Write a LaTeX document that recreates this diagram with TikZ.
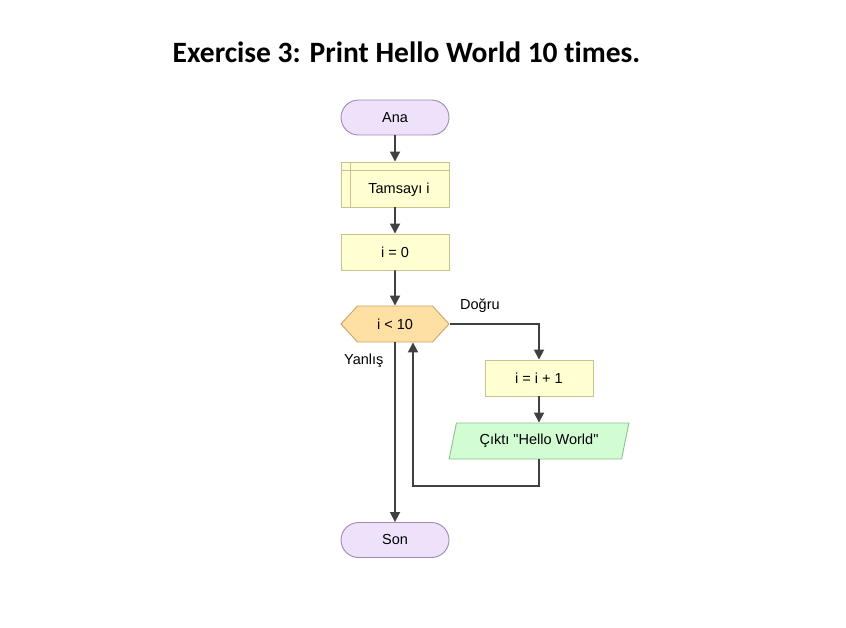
\documentclass[tikz,border=0pt]{standalone}
\usepackage{fontspec}
\setmainfont{Liberation Sans}
\newfontfamily\titlefont[Ligatures={NoCommon}]{Carlito}
\usetikzlibrary{shapes.geometric,shapes.symbols,arrows.meta}

\definecolor{termfill}{HTML}{EEE2FB}
\definecolor{termline}{HTML}{A088B4}
\definecolor{procfill}{HTML}{FFFFD2}
\definecolor{procline}{HTML}{C4C48C}
\definecolor{condfill}{HTML}{FFE0A4}
\definecolor{condline}{HTML}{C9A366}
\definecolor{outfill}{HTML}{D2FCD2}
\definecolor{outline}{HTML}{8EBF8E}
\definecolor{flowline}{HTML}{404040}

\tikzset{
  box/.style={minimum width=108pt,minimum height=36pt,inner sep=0pt,line width=0.9pt,
    font=\fontsize{14.5}{17}\selectfont},
  term/.style={box,rectangle,rounded corners=17.5pt,fill=termfill,draw=termline,minimum height=35pt},
  proc/.style={box,rectangle,fill=procfill,draw=procline},
  decl/.style={proc,minimum height=45pt,
    path picture={\draw[procline,line width=0.9pt]
      ([xshift=9pt]path picture bounding box.north west) -- ([xshift=9pt]path picture bounding box.south west)
      ([yshift=-8pt]path picture bounding box.north west) -- ([yshift=-8pt]path picture bounding box.north east);}},
  cond/.style={box,signal,signal to=west and east,signal pointer angle=95,fill=condfill,draw=condline},
  io/.style={box,trapezium,trapezium left angle=68.7,trapezium right angle=111.3,trapezium stretches=true,
    minimum width=180pt,fill=outfill,draw=outline},
  flow/.style={draw=flowline,line width=1.8pt,-{Triangle[width=10pt,length=10pt]}},
  lbl/.style={font=\fontsize{14.5}{17}\selectfont,inner sep=0pt}
}

\begin{document}
\begin{tikzpicture}[x=1pt,y=-1pt]
  \useasboundingbox (0,0) rectangle (846,628);

  \node[font=\titlefont\bfseries\fontsize{29.5}{34}\selectfont] at (406.5,52) (title) {Exercise 3: Print Hello World 10 times.};

  \node[term] at (395,117.5) (ana) {Ana};
  \node[decl] at (395,184.5) (tam) {\hspace{8pt}\vphantom{Tamsayı i}\smash{\raisebox{-5pt}{Tamsayı i}}};
  \node[proc] at (395,252) (init) {i = 0};
  \node[cond] at (395,324) (cond) {i < 10};
  \node[proc] at (539,378) (inc) {i = i + 1};
  \node[io] at (539,441) (out) {Çıktı \textquotedbl Hello World\textquotedbl};
  \node[term] at (395,540) (son) {Son};

  \node[lbl,anchor=west] at (460,306) (dogru) {Doğru};
  \node[lbl,anchor=west] at (344,361) (yanlis) {Yanlış};

  \coordinate (back) at (413,486);

  \draw[flow] (ana) -- (tam);
  \draw[flow] (tam) -- (init);
  \draw[flow] (init) -- (cond);
  \draw[flow] (cond.east) -| (inc.north);
  \draw[flow] (inc) -- (out);
  \draw[flow] (out.south) |- (back) -- (back |- cond.south);
  \draw[flow] (cond.south) -- (son.north);
\end{tikzpicture}
\end{document}
